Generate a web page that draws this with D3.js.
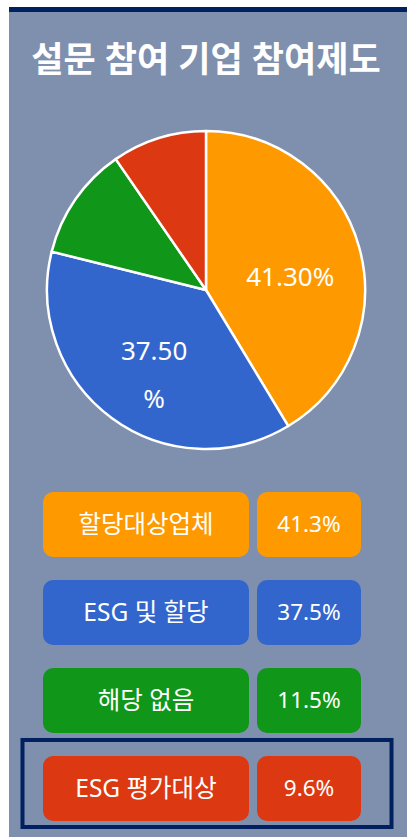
<!DOCTYPE html>
<html>
<head>
<meta charset="utf-8">
<script src="https://cdn.jsdelivr.net/npm/d3@7"></script>
<style>
  body { margin: 0; background: #fff; }
  svg { display: block; font-family: "Noto Sans", "Noto Sans CJK KR", sans-serif; }
</style>
</head>
<body>
<script>
// chart data
var title = "설문 참여 기업 참여제도";
var categories = ["할당대상업체", "ESG 및 할당", "해당 없음", "ESG 평가대상"];
var values = [41.3, 37.5, 11.5, 9.6];
var colors = ["#ff9900", "#3366cc", "#109618", "#dc3912"];
var showPieLabel = [true, true, false, false];
var wrapPieLabel = [false, true, false, false];
var highlighted = "ESG 평가대상";

var width = 407, height = 839;
var svg = d3.select("body").append("svg")
  .attr("width", width)
  .attr("height", height);

// panel background + top bar
svg.append("rect")
  .attr("x", 9).attr("y", 7)
  .attr("width", width - 9).attr("height", 830)
  .attr("fill", "#7f8fae");
svg.append("rect")
  .attr("x", 9).attr("y", 7)
  .attr("width", width - 9).attr("height", 5)
  .attr("fill", "#002060");

svg.append("text")
  .attr("x", 206).attr("y", 58)
  .attr("text-anchor", "middle")
  .attr("dominant-baseline", "central")
  .style("font-size", "35px")
  .style("font-weight", "bold")
  .style("fill", "white")
  .text(title);

var data = categories.map(function(c, i) {
  return { name: c, value: values[i], color: colors[i], label: showPieLabel[i], wrap: wrapPieLabel[i] };
});

// pie
var r = 159;
var pieG = svg.append("g").attr("transform", "translate(206,290)");
var pie = d3.pie().sort(null).value(function(d) { return d.value; });
var arc = d3.arc().innerRadius(0).outerRadius(r);
var labelArc = d3.arc().innerRadius(r * 0.55).outerRadius(r * 0.55);

pieG.selectAll("path")
  .data(pie(data))
  .enter()
  .append("path")
  .attr("d", arc)
  .attr("fill", function(d) { return d.data.color; })
  .attr("stroke", "white")
  .attr("stroke-width", 2.5)
  .attr("stroke-linejoin", "round");

var pieLabels = pieG.selectAll("text.plabel")
  .data(pie(data).filter(function(d) { return d.data.label; }))
  .enter()
  .append("text")
  .attr("class", "plabel")
  .attr("transform", function(d) { return "translate(" + labelArc.centroid(d) + ")"; })
  .attr("text-anchor", "middle")
  .style("font-size", "26px")
  .style("fill", "white");

pieLabels.each(function(d) {
  var t = d3.select(this);
  var s = d3.format(".2f")(d.data.value);
  if (d.data.wrap) {
    t.append("tspan").attr("x", 0).attr("dy", "0em").text(s);
    t.append("tspan").attr("x", 0).attr("dy", "1.85em").text("%");
  } else {
    t.append("tspan").attr("x", 0).attr("dy", "0.75em").text(s + "%");
  }
});

// legend boxes
var y = d3.scaleBand()
  .domain(categories)
  .range([492, 821])
  .paddingInner(0.261);

var rows = svg.selectAll("g.row")
  .data(data)
  .enter()
  .append("g")
  .attr("class", "row")
  .attr("transform", function(d) { return "translate(0," + y(d.name) + ")"; });

rows.append("rect")
  .attr("x", 43).attr("width", 206)
  .attr("height", y.bandwidth())
  .attr("rx", 10)
  .attr("fill", function(d) { return d.color; });

rows.append("rect")
  .attr("x", 257).attr("width", 104)
  .attr("height", y.bandwidth())
  .attr("rx", 10)
  .attr("fill", function(d) { return d.color; });

rows.append("text")
  .attr("x", 146)
  .attr("y", y.bandwidth() / 2)
  .attr("dy", "0.36em")
  .attr("text-anchor", "middle")
  .style("font-size", "24.5px")
  .style("fill", "white")
  .text(function(d) { return d.name; });

rows.append("text")
  .attr("x", 309)
  .attr("y", y.bandwidth() / 2)
  .attr("dy", "0.35em")
  .attr("text-anchor", "middle")
  .style("font-size", "22.5px")
  .style("fill", "white")
  .text(function(d) { return d3.format(".1f")(d.value) + "%"; });

// outline around highlighted row
svg.append("rect")
  .attr("x", 22.5)
  .attr("y", y(highlighted) - 16)
  .attr("width", 369)
  .attr("height", y.bandwidth() + 22)
  .attr("fill", "none")
  .attr("stroke", "#002060")
  .attr("stroke-width", 4);
</script>
</body>
</html>
